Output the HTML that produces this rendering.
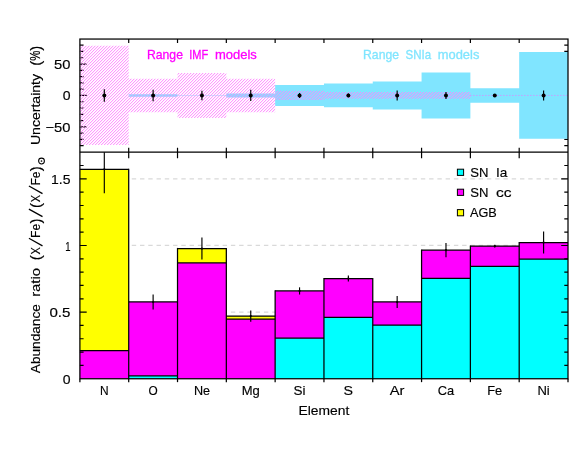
<!DOCTYPE html>
<html><head><meta charset="utf-8"><title>Abundance ratios</title>
<style>html,body{margin:0;padding:0;background:#fff}body{width:581px;height:449px;overflow:hidden}svg{display:block;will-change:transform;transform:translateZ(0)}text{font-family:"Liberation Sans",sans-serif;}</style>
</head><body>
<svg width="581" height="449" viewBox="0 0 581 449">
<defs>
<pattern id="h" width="3" height="3" patternUnits="userSpaceOnUse" patternTransform="translate(0.2 0)">
<path d="M-1 4L4 -1M-1 1L1 -1M2 4L4 2" stroke="#ff80ff" stroke-width="1" fill="none"/>
</pattern>
</defs>
<rect width="581" height="449" fill="#fff"/>
<path d="M79.90 145.72h3.7M568.00 145.72h-3.7M79.90 139.43h3.7M568.00 139.43h-3.7M79.90 133.15h3.7M568.00 133.15h-3.7M79.90 126.87h6.8M568.00 126.87h-6.8M79.90 120.58h3.7M568.00 120.58h-3.7M79.90 114.30h3.7M568.00 114.30h-3.7M79.90 108.02h3.7M568.00 108.02h-3.7M79.90 101.73h3.7M568.00 101.73h-3.7M79.90 95.45h6.8M568.00 95.45h-6.8M79.90 89.17h3.7M568.00 89.17h-3.7M79.90 82.88h3.7M568.00 82.88h-3.7M79.90 76.60h3.7M568.00 76.60h-3.7M79.90 70.32h3.7M568.00 70.32h-3.7M79.90 64.03h6.8M568.00 64.03h-6.8M79.90 57.75h3.7M568.00 57.75h-3.7M79.90 51.47h3.7M568.00 51.47h-3.7M79.90 45.18h3.7M568.00 45.18h-3.7" stroke="#000" stroke-width="1.2" fill="none"/>
<path d="M128.71 94.19L177.52 94.19L177.52 95.15L226.33 95.15L226.33 93.50L275.14 93.50L275.14 85.02L323.95 85.02L323.95 83.57L372.76 83.57L372.76 81.44L421.57 81.44L421.57 72.39L470.38 72.39L470.38 88.22L519.19 88.22L519.19 52.09L568.00 52.09L568.00 138.81L519.19 138.81L519.19 102.68L470.38 102.68L470.38 118.51L421.57 118.51L421.57 109.46L372.76 109.46L372.76 107.33L323.95 107.33L323.95 105.88L275.14 105.88L275.14 97.40L226.33 97.40L226.33 95.75L177.52 95.75L177.52 96.71L128.71 96.71Z" fill="#80e5ff"/>
<path d="M79.90 45.81L128.71 45.81L128.71 78.67L177.52 78.67L177.52 72.96L226.33 72.96L226.33 78.67L275.14 78.67L275.14 90.86L323.95 90.86L323.95 92.06L372.76 92.06L372.76 92.06L421.57 92.06L421.57 92.06L470.38 92.06L470.38 98.84L421.57 98.84L421.57 98.84L372.76 98.84L372.76 98.84L323.95 98.84L323.95 100.04L275.14 100.04L275.14 112.23L226.33 112.23L226.33 117.94L177.52 117.94L177.52 112.23L128.71 112.23L128.71 145.09L79.90 145.09Z" fill="url(#h)"/>
<line x1="470.38" y1="95.45" x2="568.00" y2="95.45" stroke="#ff66ff" stroke-width="0.8" stroke-dasharray="1 2"/>
<line x1="104.31" y1="89.17" x2="104.31" y2="101.73" stroke="#000" stroke-width="1.15"/>
<circle cx="104.31" cy="95.45" r="2.0" fill="#000"/>
<line x1="153.12" y1="89.67" x2="153.12" y2="101.23" stroke="#000" stroke-width="1.15"/>
<circle cx="153.12" cy="95.45" r="2.0" fill="#000"/>
<line x1="201.93" y1="90.74" x2="201.93" y2="100.16" stroke="#000" stroke-width="1.15"/>
<circle cx="201.93" cy="95.45" r="2.0" fill="#000"/>
<line x1="250.74" y1="89.80" x2="250.74" y2="101.11" stroke="#000" stroke-width="1.15"/>
<circle cx="250.74" cy="95.45" r="2.0" fill="#000"/>
<line x1="299.55" y1="92.94" x2="299.55" y2="97.96" stroke="#000" stroke-width="1.15"/>
<circle cx="299.55" cy="95.45" r="2.0" fill="#000"/>
<line x1="348.36" y1="93.56" x2="348.36" y2="97.34" stroke="#000" stroke-width="1.15"/>
<circle cx="348.36" cy="95.45" r="2.0" fill="#000"/>
<line x1="397.16" y1="90.42" x2="397.16" y2="100.48" stroke="#000" stroke-width="1.15"/>
<circle cx="397.16" cy="95.45" r="2.0" fill="#000"/>
<line x1="445.98" y1="91.99" x2="445.98" y2="98.91" stroke="#000" stroke-width="1.15"/>
<circle cx="445.98" cy="95.45" r="2.0" fill="#000"/>
<circle cx="494.78" cy="95.45" r="2.0" fill="#000"/>
<line x1="543.60" y1="90.42" x2="543.60" y2="100.48" stroke="#000" stroke-width="1.15"/>
<circle cx="543.60" cy="95.45" r="2.0" fill="#000"/>
<line x1="82.20" y1="312.12" x2="568.00" y2="312.12" stroke="#d9d9d9" stroke-width="1.25" stroke-dasharray="4.4 3.86"/>
<line x1="82.20" y1="245.48" x2="568.00" y2="245.48" stroke="#d9d9d9" stroke-width="1.25" stroke-dasharray="4.4 3.86"/>
<line x1="82.20" y1="178.85" x2="568.00" y2="178.85" stroke="#d9d9d9" stroke-width="1.25" stroke-dasharray="4.4 3.86"/>
<rect x="79.90" y="350.63" width="48.81" height="28.12" fill="#ff00ff"/>
<rect x="79.90" y="169.25" width="48.81" height="181.38" fill="#ffff00"/>
<rect x="128.71" y="375.82" width="48.81" height="2.93" fill="#00ffff"/>
<rect x="128.71" y="301.99" width="48.81" height="73.83" fill="#ff00ff"/>
<rect x="177.52" y="262.94" width="48.81" height="115.81" fill="#ff00ff"/>
<rect x="177.52" y="248.55" width="48.81" height="14.39" fill="#ffff00"/>
<rect x="226.33" y="319.18" width="48.81" height="59.57" fill="#ff00ff"/>
<rect x="226.33" y="316.11" width="48.81" height="3.07" fill="#ffff00"/>
<rect x="275.14" y="338.24" width="48.81" height="40.51" fill="#00ffff"/>
<rect x="275.14" y="290.93" width="48.81" height="47.31" fill="#ff00ff"/>
<rect x="323.95" y="317.45" width="48.81" height="61.30" fill="#00ffff"/>
<rect x="323.95" y="278.53" width="48.81" height="38.91" fill="#ff00ff"/>
<rect x="372.76" y="325.04" width="48.81" height="53.71" fill="#00ffff"/>
<rect x="372.76" y="301.99" width="48.81" height="23.06" fill="#ff00ff"/>
<rect x="421.57" y="278.40" width="48.81" height="100.35" fill="#00ffff"/>
<rect x="421.57" y="250.15" width="48.81" height="28.25" fill="#ff00ff"/>
<rect x="470.38" y="266.27" width="48.81" height="112.48" fill="#00ffff"/>
<rect x="470.38" y="246.15" width="48.81" height="20.12" fill="#ff00ff"/>
<rect x="519.19" y="259.08" width="48.81" height="119.67" fill="#00ffff"/>
<rect x="519.19" y="242.55" width="48.81" height="16.53" fill="#ff00ff"/>
<line x1="79.90" y1="350.63" x2="128.71" y2="350.63" stroke="#000" stroke-width="1.25"/>
<line x1="79.90" y1="169.25" x2="128.71" y2="169.25" stroke="#000" stroke-width="1.25"/>
<line x1="128.71" y1="375.82" x2="177.52" y2="375.82" stroke="#000" stroke-width="1.25"/>
<line x1="128.71" y1="301.99" x2="177.52" y2="301.99" stroke="#000" stroke-width="1.25"/>
<line x1="177.52" y1="262.94" x2="226.33" y2="262.94" stroke="#000" stroke-width="1.25"/>
<line x1="177.52" y1="248.55" x2="226.33" y2="248.55" stroke="#000" stroke-width="1.25"/>
<line x1="226.33" y1="319.18" x2="275.14" y2="319.18" stroke="#000" stroke-width="1.25"/>
<line x1="226.33" y1="316.11" x2="275.14" y2="316.11" stroke="#000" stroke-width="1.25"/>
<line x1="275.14" y1="338.24" x2="323.95" y2="338.24" stroke="#000" stroke-width="1.25"/>
<line x1="275.14" y1="290.93" x2="323.95" y2="290.93" stroke="#000" stroke-width="1.25"/>
<line x1="323.95" y1="317.45" x2="372.76" y2="317.45" stroke="#000" stroke-width="1.25"/>
<line x1="323.95" y1="278.53" x2="372.76" y2="278.53" stroke="#000" stroke-width="1.25"/>
<line x1="372.76" y1="325.04" x2="421.57" y2="325.04" stroke="#000" stroke-width="1.25"/>
<line x1="372.76" y1="301.99" x2="421.57" y2="301.99" stroke="#000" stroke-width="1.25"/>
<line x1="421.57" y1="278.40" x2="470.38" y2="278.40" stroke="#000" stroke-width="1.25"/>
<line x1="421.57" y1="250.15" x2="470.38" y2="250.15" stroke="#000" stroke-width="1.25"/>
<line x1="470.38" y1="266.27" x2="519.19" y2="266.27" stroke="#000" stroke-width="1.25"/>
<line x1="470.38" y1="246.15" x2="519.19" y2="246.15" stroke="#000" stroke-width="1.25"/>
<line x1="519.19" y1="259.08" x2="568.00" y2="259.08" stroke="#000" stroke-width="1.25"/>
<line x1="519.19" y1="242.55" x2="568.00" y2="242.55" stroke="#000" stroke-width="1.25"/>
<line x1="128.71" y1="168.63" x2="128.71" y2="382.15" stroke="#000" stroke-width="1.25"/>
<line x1="177.52" y1="247.92" x2="177.52" y2="382.15" stroke="#000" stroke-width="1.25"/>
<line x1="226.33" y1="247.92" x2="226.33" y2="382.15" stroke="#000" stroke-width="1.25"/>
<line x1="275.14" y1="290.30" x2="275.14" y2="382.15" stroke="#000" stroke-width="1.25"/>
<line x1="323.95" y1="277.91" x2="323.95" y2="382.15" stroke="#000" stroke-width="1.25"/>
<line x1="372.76" y1="277.91" x2="372.76" y2="382.15" stroke="#000" stroke-width="1.25"/>
<line x1="421.57" y1="249.52" x2="421.57" y2="382.15" stroke="#000" stroke-width="1.25"/>
<line x1="470.38" y1="245.52" x2="470.38" y2="382.15" stroke="#000" stroke-width="1.25"/>
<line x1="519.19" y1="241.93" x2="519.19" y2="382.15" stroke="#000" stroke-width="1.25"/>
<line x1="104.31" y1="152.15" x2="104.31" y2="193.24" stroke="#000" stroke-width="1.15"/>
<circle cx="104.31" cy="169.25" r="1.1" fill="#000"/>
<line x1="153.12" y1="294.53" x2="153.12" y2="309.45" stroke="#000" stroke-width="1.15"/>
<circle cx="153.12" cy="301.99" r="1.1" fill="#000"/>
<line x1="201.93" y1="237.49" x2="201.93" y2="259.61" stroke="#000" stroke-width="1.15"/>
<circle cx="201.93" cy="248.55" r="1.1" fill="#000"/>
<line x1="250.74" y1="310.38" x2="250.74" y2="321.85" stroke="#000" stroke-width="1.15"/>
<circle cx="250.74" cy="316.11" r="1.1" fill="#000"/>
<line x1="299.55" y1="287.33" x2="299.55" y2="294.53" stroke="#000" stroke-width="1.15"/>
<circle cx="299.55" cy="290.93" r="1.1" fill="#000"/>
<line x1="348.36" y1="275.47" x2="348.36" y2="281.60" stroke="#000" stroke-width="1.15"/>
<circle cx="348.36" cy="278.53" r="1.1" fill="#000"/>
<line x1="397.16" y1="295.99" x2="397.16" y2="307.99" stroke="#000" stroke-width="1.15"/>
<circle cx="397.16" cy="301.99" r="1.1" fill="#000"/>
<line x1="445.98" y1="242.95" x2="445.98" y2="257.34" stroke="#000" stroke-width="1.15"/>
<circle cx="445.98" cy="250.15" r="1.1" fill="#000"/>
<line x1="494.78" y1="244.68" x2="494.78" y2="247.62" stroke="#000" stroke-width="1.15"/>
<circle cx="494.78" cy="246.15" r="1.1" fill="#000"/>
<line x1="543.60" y1="231.49" x2="543.60" y2="253.61" stroke="#000" stroke-width="1.15"/>
<circle cx="543.60" cy="242.55" r="1.1" fill="#000"/>
<path d="M79.90 365.42h3.7M568.00 365.42h-3.7M79.90 352.10h3.7M568.00 352.10h-3.7M79.90 338.77h3.7M568.00 338.77h-3.7M79.90 325.44h3.7M568.00 325.44h-3.7M79.90 312.12h6.8M568.00 312.12h-6.8M79.90 298.79h3.7M568.00 298.79h-3.7M79.90 285.46h3.7M568.00 285.46h-3.7M79.90 272.14h3.7M568.00 272.14h-3.7M79.90 258.81h3.7M568.00 258.81h-3.7M79.90 245.48h6.8M568.00 245.48h-6.8M79.90 232.16h3.7M568.00 232.16h-3.7M79.90 218.83h3.7M568.00 218.83h-3.7M79.90 205.50h3.7M568.00 205.50h-3.7M79.90 192.18h3.7M568.00 192.18h-3.7M79.90 178.85h6.8M568.00 178.85h-6.8M79.90 165.52h3.7M568.00 165.52h-3.7M128.71 39.05v4M128.71 147.65v10.5M177.52 39.05v4M177.52 147.65v10.5M226.33 39.05v4M226.33 147.65v10.5M275.14 39.05v4M275.14 147.65v10.5M323.95 39.05v4M323.95 147.65v10.5M372.76 39.05v4M372.76 147.65v10.5M421.57 39.05v4M421.57 147.65v10.5M470.38 39.05v4M470.38 147.65v10.5M519.19 39.05v4M519.19 147.65v10.5" stroke="#000" stroke-width="1.2" fill="none"/>
<rect x="79.90" y="39.05" width="488.10" height="339.70" fill="none" stroke="#000" stroke-width="1.25"/>
<line x1="79.90" y1="152.15" x2="568.00" y2="152.15" stroke="#000" stroke-width="1.25"/>
<path d="M79.90 378.75v3.4M568.00 378.75v3.4" stroke="#000" stroke-width="1.25" fill="none"/>
<text x="100.01" y="395.30" font-size="12.8" fill="#000" stroke="#000" stroke-width="0.15" textLength="8.60" lengthAdjust="spacingAndGlyphs">N</text>
<text x="148.52" y="395.30" font-size="12.8" fill="#000" stroke="#000" stroke-width="0.15" textLength="9.20" lengthAdjust="spacingAndGlyphs">O</text>
<text x="193.88" y="395.30" font-size="12.8" fill="#000" stroke="#000" stroke-width="0.15" textLength="16.10" lengthAdjust="spacingAndGlyphs">Ne</text>
<text x="241.69" y="395.30" font-size="12.8" fill="#000" stroke="#000" stroke-width="0.15" textLength="18.10" lengthAdjust="spacingAndGlyphs">Mg</text>
<text x="293.55" y="395.30" font-size="12.8" fill="#000" stroke="#000" stroke-width="0.15" textLength="12.00" lengthAdjust="spacingAndGlyphs">Si</text>
<text x="343.61" y="395.30" font-size="12.8" fill="#000" stroke="#000" stroke-width="0.15" textLength="9.50" lengthAdjust="spacingAndGlyphs">S</text>
<text x="389.81" y="395.30" font-size="12.8" fill="#000" stroke="#000" stroke-width="0.15" textLength="14.70" lengthAdjust="spacingAndGlyphs">Ar</text>
<text x="437.78" y="395.30" font-size="12.8" fill="#000" stroke="#000" stroke-width="0.15" textLength="16.40" lengthAdjust="spacingAndGlyphs">Ca</text>
<text x="487.28" y="395.30" font-size="12.8" fill="#000" stroke="#000" stroke-width="0.15" textLength="15.00" lengthAdjust="spacingAndGlyphs">Fe</text>
<text x="537.44" y="395.30" font-size="12.8" fill="#000" stroke="#000" stroke-width="0.15" textLength="12.30" lengthAdjust="spacingAndGlyphs">Ni</text>
<text x="298.55" y="415.30" font-size="12.8" fill="#000" stroke="#000" stroke-width="0.15" textLength="50.80" lengthAdjust="spacingAndGlyphs">Element</text>
<text x="54.05" y="69.03" font-size="12.8" fill="#000" stroke="#000" stroke-width="0.15" textLength="16.40" lengthAdjust="spacingAndGlyphs">50</text>
<text x="62.65" y="100.45" font-size="12.8" fill="#000" stroke="#000" stroke-width="0.15" textLength="7.80" lengthAdjust="spacingAndGlyphs">0</text>
<text x="45.45" y="131.87" font-size="12.8" fill="#000" stroke="#000" stroke-width="0.15" textLength="25.00" lengthAdjust="spacingAndGlyphs">−50</text>
<text x="51.05" y="183.95" font-size="12.8" fill="#000" stroke="#000" stroke-width="0.15" textLength="19.40" lengthAdjust="spacingAndGlyphs">1.5</text>
<text x="65.15" y="250.58" font-size="12.8" fill="#000" stroke="#000" stroke-width="0.15" textLength="5.30" lengthAdjust="spacingAndGlyphs">1</text>
<text x="49.45" y="317.22" font-size="12.8" fill="#000" stroke="#000" stroke-width="0.15" textLength="21.00" lengthAdjust="spacingAndGlyphs">0.5</text>
<text x="62.65" y="383.85" font-size="12.8" fill="#000" stroke="#000" stroke-width="0.15" textLength="7.80" lengthAdjust="spacingAndGlyphs">0</text>
<g transform="translate(40.1 372.7) rotate(-90)">
<text x="-0.45" y="0.00" font-size="12.8" fill="#000" stroke="#000" stroke-width="0.15" textLength="69.00" lengthAdjust="spacingAndGlyphs">Abundance</text>
<text x="75.85" y="0.00" font-size="12.8" fill="#000" stroke="#000" stroke-width="0.15" textLength="28.90" lengthAdjust="spacingAndGlyphs">ratio</text>
<text x="115.00" y="0.90" font-size="15" text-anchor="middle" fill="#000" stroke="#000" stroke-width="0.1">(</text>
<text x="118.25" y="0.00" font-size="12.8" fill="#000" stroke="#000" stroke-width="0.15" textLength="7.30" lengthAdjust="spacingAndGlyphs">X</text>
<line x1="126.80" y1="2.4" x2="134.40" y2="-11.2" stroke="#000" stroke-width="1.25"/>
<text x="134.80" y="0.00" font-size="12.8" fill="#000" stroke="#000" stroke-width="0.15" textLength="14.20" lengthAdjust="spacingAndGlyphs">Fe</text>
<text x="151.60" y="0.90" font-size="15" text-anchor="middle" fill="#000" stroke="#000" stroke-width="0.1">)</text>
<line x1="156.1" y1="2.4" x2="163.6" y2="-11.2" stroke="#000" stroke-width="1.25"/>
<text x="167.30" y="0.90" font-size="15" text-anchor="middle" fill="#000" stroke="#000" stroke-width="0.1">(</text>
<text x="170.55" y="0.00" font-size="12.8" fill="#000" stroke="#000" stroke-width="0.15" textLength="7.30" lengthAdjust="spacingAndGlyphs">X</text>
<line x1="179.10" y1="2.4" x2="186.70" y2="-11.2" stroke="#000" stroke-width="1.25"/>
<text x="187.10" y="0.00" font-size="12.8" fill="#000" stroke="#000" stroke-width="0.15" textLength="14.20" lengthAdjust="spacingAndGlyphs">Fe</text>
<text x="203.90" y="0.90" font-size="15" text-anchor="middle" fill="#000" stroke="#000" stroke-width="0.1">)</text>
<circle cx="211.7" cy="1.4" r="2.9" fill="none" stroke="#000" stroke-width="1.05"/><circle cx="211.7" cy="1.4" r="0.85" fill="#000"/>
</g>
<g transform="translate(39.800000000000004 144.6) rotate(-90)">
<text x="-0.45" y="0.00" font-size="12.8" fill="#000" stroke="#000" stroke-width="0.15" textLength="71.10" lengthAdjust="spacingAndGlyphs">Uncertainty</text>
<text x="81.30" y="0.90" font-size="15" text-anchor="middle" fill="#000" stroke="#000" stroke-width="0.1">(</text>
<text x="83.80" y="0.30" font-size="14.2" fill="#000" stroke="#000" stroke-width="0.15" textLength="10.00" lengthAdjust="spacingAndGlyphs">%</text>
<text x="96.30" y="0.90" font-size="15" text-anchor="middle" fill="#000" stroke="#000" stroke-width="0.1">)</text>
</g>
<text x="146.95" y="58.60" font-size="12.8" fill="#ff00ff" stroke="#ff00ff" stroke-width="0.28" textLength="36.00" lengthAdjust="spacingAndGlyphs">Range</text>
<text x="189.25" y="58.60" font-size="12.8" fill="#ff00ff" stroke="#ff00ff" stroke-width="0.28" textLength="19.00" lengthAdjust="spacingAndGlyphs">IMF</text>
<text x="214.95" y="58.60" font-size="12.8" fill="#ff00ff" stroke="#ff00ff" stroke-width="0.28" textLength="41.90" lengthAdjust="spacingAndGlyphs">models</text>
<text x="363.05" y="58.50" font-size="12.8" fill="#80e5ff" stroke="#80e5ff" stroke-width="0.28" textLength="36.00" lengthAdjust="spacingAndGlyphs">Range</text>
<text x="405.55" y="58.50" font-size="12.8" fill="#80e5ff" stroke="#80e5ff" stroke-width="0.28" textLength="25.50" lengthAdjust="spacingAndGlyphs">SNIa</text>
<text x="437.75" y="58.50" font-size="12.8" fill="#80e5ff" stroke="#80e5ff" stroke-width="0.28" textLength="41.60" lengthAdjust="spacingAndGlyphs">models</text>
<rect x="457.4" y="169.20" width="6.2" height="6.2" fill="#00ffff" stroke="#000" stroke-width="1"/>
<text x="470.25" y="176.60" font-size="12.8" fill="#000" stroke="#000" stroke-width="0.15" textLength="18.20" lengthAdjust="spacingAndGlyphs">SN</text>
<text x="496.05" y="176.60" font-size="12.8" fill="#000" stroke="#000" stroke-width="0.15" textLength="11.40" lengthAdjust="spacingAndGlyphs">Ia</text>
<rect x="457.4" y="189.20" width="6.2" height="6.2" fill="#ff00ff" stroke="#000" stroke-width="1"/>
<text x="470.25" y="196.60" font-size="12.8" fill="#000" stroke="#000" stroke-width="0.15" textLength="18.20" lengthAdjust="spacingAndGlyphs">SN</text>
<text x="496.05" y="196.60" font-size="12.8" fill="#000" stroke="#000" stroke-width="0.15" textLength="15.60" lengthAdjust="spacingAndGlyphs">cc</text>
<rect x="457.4" y="209.60" width="6.2" height="6.2" fill="#ffff00" stroke="#000" stroke-width="1"/>
<text x="469.95" y="217.00" font-size="12.8" fill="#000" stroke="#000" stroke-width="0.15" textLength="26.80" lengthAdjust="spacingAndGlyphs">AGB</text>
</svg></body></html>
